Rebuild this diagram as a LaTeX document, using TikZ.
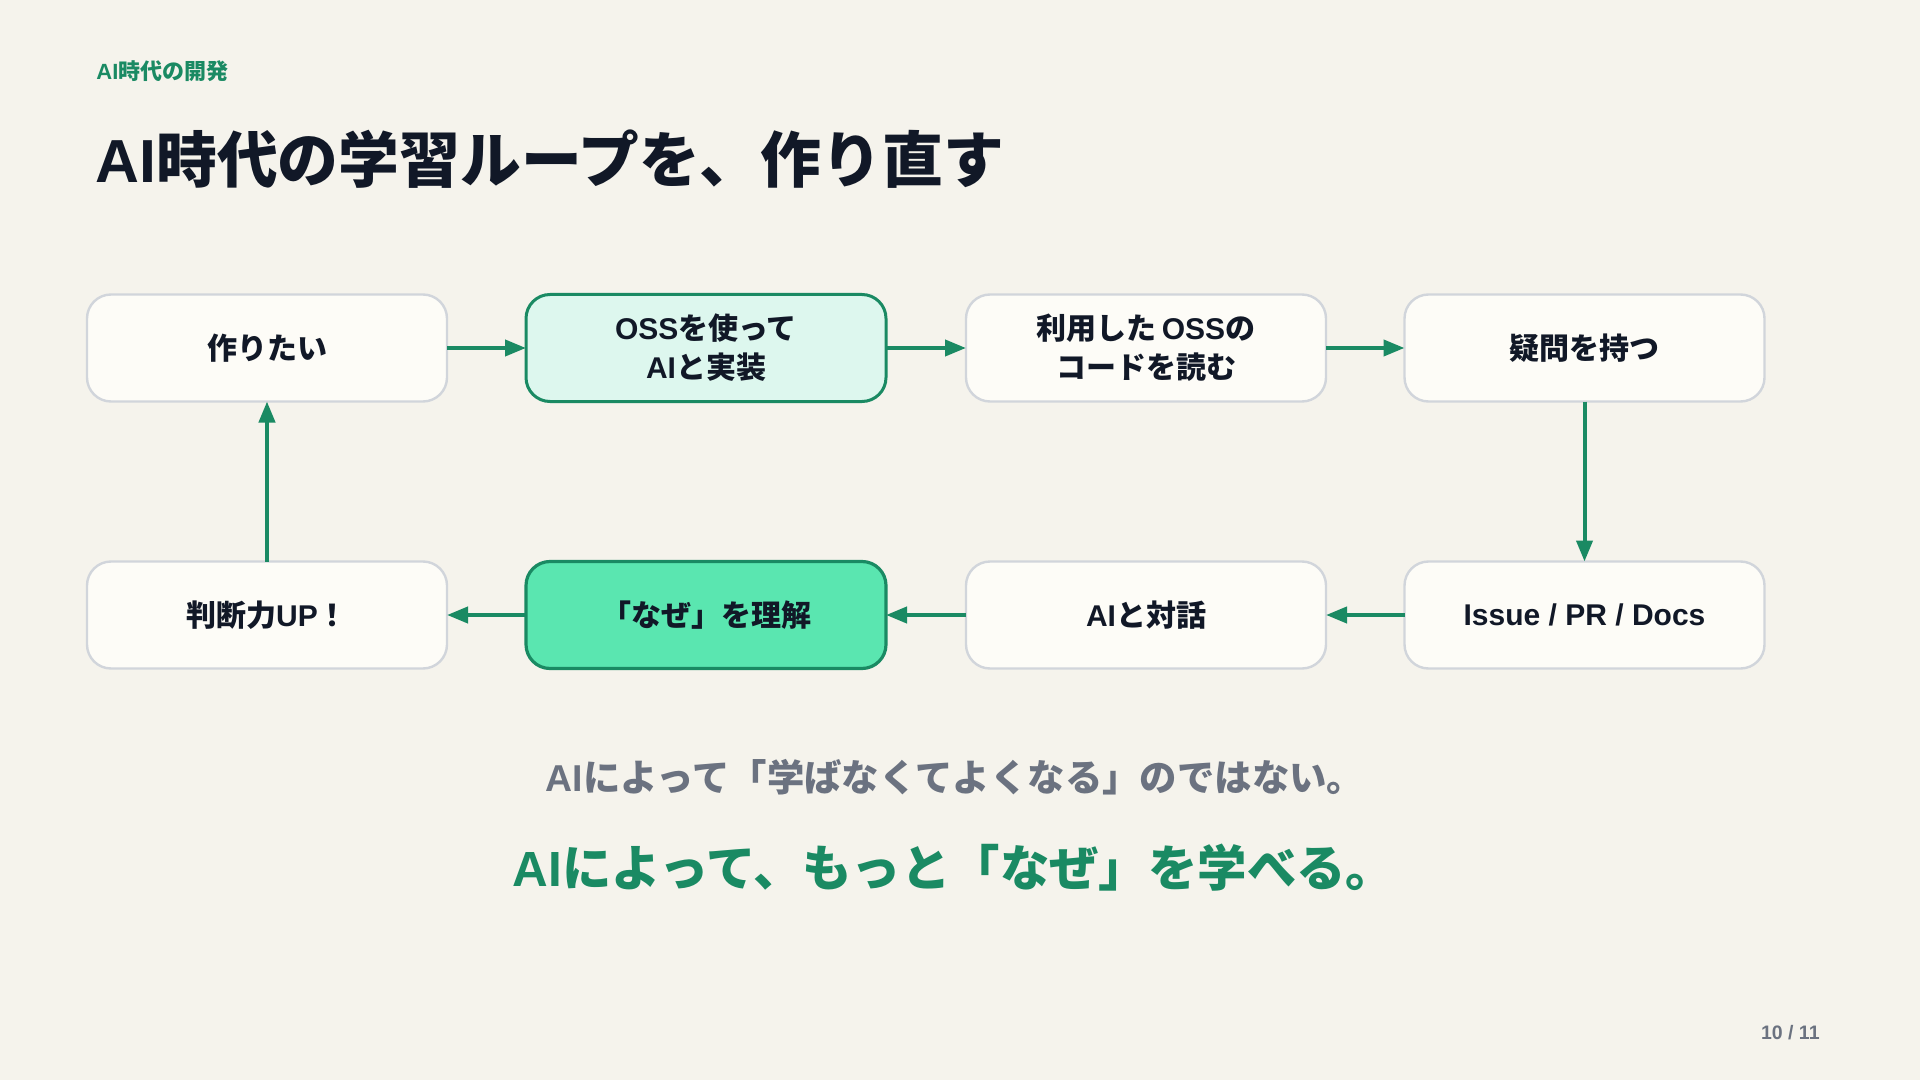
\documentclass[tikz,border=0pt]{standalone}
\usepackage{fontspec}
\setmainfont{Noto Sans CJK JP}[BoldFont={Noto Sans CJK JP Black}]
\newfontfamily\latf{Liberation Sans}
\newcommand\Lat[1]{{\latf #1}}
\usetikzlibrary{arrows.meta}
\definecolor{bg}{RGB}{245,243,236}
\definecolor{boxfill}{RGB}{253,252,247}
\definecolor{boxline}{RGB}{209,213,219}
\definecolor{mintlight}{RGB}{221,247,238}
\definecolor{mintstrong}{RGB}{90,230,176}
\definecolor{accent}{RGB}{26,138,99}
\definecolor{ink}{RGB}{17,24,39}
\definecolor{muted}{RGB}{107,114,128}
\begin{document}
\begin{tikzpicture}[x=0.5pt,y=-0.5pt,
  box/.style={draw=boxline, fill=boxfill, line width=1.2pt, rounded corners=12pt,
    minimum width=180pt, minimum height=53.5pt, align=center, inner sep=0pt,
    outer sep=0pt, text=ink, font=\bfseries\fontsize{15}{19.5}\selectfont},
  softbox/.style={box, draw=accent, fill=mintlight, line width=1.5pt},
  strongbox/.style={box, draw=accent, fill=mintstrong, line width=1.6pt},
  flow/.style={draw=accent, line width=2pt, -{Triangle[length=10.5pt,width=8pt]}}]
\fill[bg] (0,0) rectangle (1920,1080);
\useasboundingbox (0,0) rectangle (1920,1080);

\node[anchor=west, inner sep=0pt, text=accent, font=\bfseries\fontsize{11}{13}\selectfont] (kicker) at (96,71) {\Lat{AI}時代の開発};
\node[anchor=west, inner sep=0pt, text=ink, font=\bfseries\fontsize{30.4}{36}\selectfont] (title) at (95,159) {\Lat{AI}時代の学習ループを、作り直す};

\node[box] (n1) at (267,348) {作りたい};
\node[softbox] (n2) at (706,348) {\Lat{OSS}を使って\\\Lat{AI}と実装};
\node[box] (n3) at (1146,348) {利用した\,\Lat{OSS}の\\コードを読む};
\node[box] (n4) at (1584.5,348) {疑問を持つ};
\node[box] (n5) at (1584.5,615) {\Lat{Issue / PR / Docs}};
\node[box] (n6) at (1146,615) {\Lat{AI}と対話};
\node[strongbox] (n7) at (706,615) {「なぜ」を理解};
\node[box] (n8) at (267,615) {判断力\Lat{UP}！};

\draw[flow] (n1) -- (n2);
\draw[flow] (n2) -- (n3);
\draw[flow] (n3) -- (n4);
\draw[flow] (n4) -- (n5);
\draw[flow] (n5) -- (n6);
\draw[flow] (n6) -- (n7);
\draw[flow] (n7) -- (n8);
\draw[flow] (n8) -- (n1);

\node[inner sep=0pt, text=muted, font=\bfseries\fontsize{18.7}{22}\selectfont] (line1) at (955,777) {\Lat{AI}によって「学ばなくてよくなる」のではない。};
\node[inner sep=0pt, text=accent, font=\bfseries\fontsize{24.7}{29}\selectfont] (line2) at (954,868) {\Lat{AI}によって、もっと「なぜ」を学べる。};

\node[anchor=east, inner sep=0pt, text=muted, font=\bfseries\fontsize{9.75}{12}\selectfont] (page) at (1820,1033) {\Lat{10 / 11}};
\end{tikzpicture}
\end{document}
